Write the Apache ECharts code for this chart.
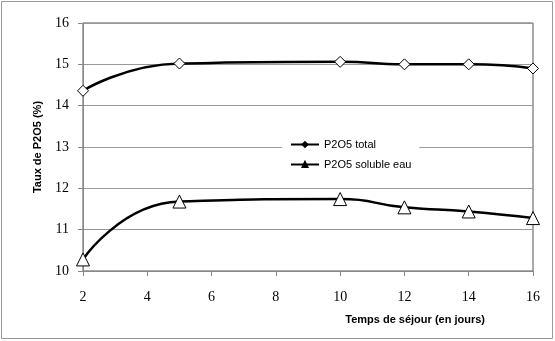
<!DOCTYPE html>
<html>
<head>
<meta charset="utf-8">
<script src="https://cdn.jsdelivr.net/npm/echarts@6/dist/echarts.min.js"></script>
<style>
  html, body { margin: 0; padding: 0; background: #fff; }
  #chart { width: 555px; height: 341px; }
</style>
</head>
<body>
<div id="chart"></div>
<script>
// jours de séjour
const days = [2, 5, 10, 12, 14, 16];
const p2o5Total = [14.36, 15.02, 15.06, 15.0, 15.0, 14.9];
const p2o5Soluble = [10.28, 11.68, 11.74, 11.54, 11.44, 11.28];

const chart = echarts.init(document.getElementById('chart'));

const serif = "'Liberation Serif', 'Times New Roman', serif";
const sans = "'Liberation Sans', Arial, sans-serif";

chart.setOption({
  animation: false,
  grid: {
    left: 83, right: 22, top: 23, bottom: 70,
    show: true,
    borderColor: '#555',
    borderWidth: 1
  },
  legend: {
    orient: 'vertical',
    left: 282, top: 135,
    itemWidth: 28, itemHeight: 6,
    itemGap: 9,
    padding: [4, 8],
    backgroundColor: '#fff',
    textStyle: { fontFamily: sans, fontSize: 11, color: '#000' },
    data: [
      { name: 'P2O5 total', itemStyle: { color: '#000' } },
      { name: 'P2O5 soluble eau', itemStyle: { color: '#000' } }
    ]
  },
  xAxis: {
    type: 'value',
    min: 2, max: 16, interval: 2,
    axisLine: { lineStyle: { color: '#888' } },
    axisTick: { show: true, length: 5, lineStyle: { color: '#888' } },
    splitLine: { show: false },
    axisLabel: { fontFamily: serif, fontSize: 14, color: '#000', margin: 19 }
  },
  yAxis: {
    type: 'value',
    min: 10, max: 16, interval: 1,
    name: 'Taux de P2O5 (%)',
    nameLocation: 'middle',
    nameGap: 40,
    nameTextStyle: { fontFamily: sans, fontSize: 11, fontWeight: 'bold', color: '#000' },
    axisLine: { show: true, lineStyle: { color: '#888' } },
    axisTick: { show: true, length: 5, lineStyle: { color: '#888' } },
    splitLine: { lineStyle: { color: '#999' } },
    axisLabel: { fontFamily: serif, fontSize: 14, color: '#000', margin: 14 }
  },
  graphic: [
    {
      type: 'rect',
      shape: { x: 1.5, y: 1.5, width: 551, height: 337 },
      style: { fill: 'none', stroke: '#999', lineWidth: 1 },
      z: -1
    },
    {
      type: 'text',
      right: 70, top: 314,
      style: {
        text: 'Temps de séjour (en jours)',
        font: 'bold 11px "Liberation Sans", Arial, sans-serif',
        fill: '#000'
      }
    }
  ],
  series: [
    {
      name: 'P2O5 total',
      type: 'line',
      smooth: 0.55,
      data: days.map((d, i) => [d, p2o5Total[i]]),
      symbol: 'diamond',
      symbolSize: 11,
      lineStyle: { color: '#000', width: 2.5 },
      itemStyle: { color: '#fff', borderColor: '#000', borderWidth: 1 }
    },
    {
      name: 'P2O5 soluble eau',
      type: 'line',
      smooth: 0.55,
      data: days.map((d, i) => [d, p2o5Soluble[i]]),
      symbol: 'triangle',
      symbolSize: 13,
      lineStyle: { color: '#000', width: 2.5 },
      itemStyle: { color: '#fff', borderColor: '#000', borderWidth: 1 }
    }
  ]
});
</script>
</body>
</html>
